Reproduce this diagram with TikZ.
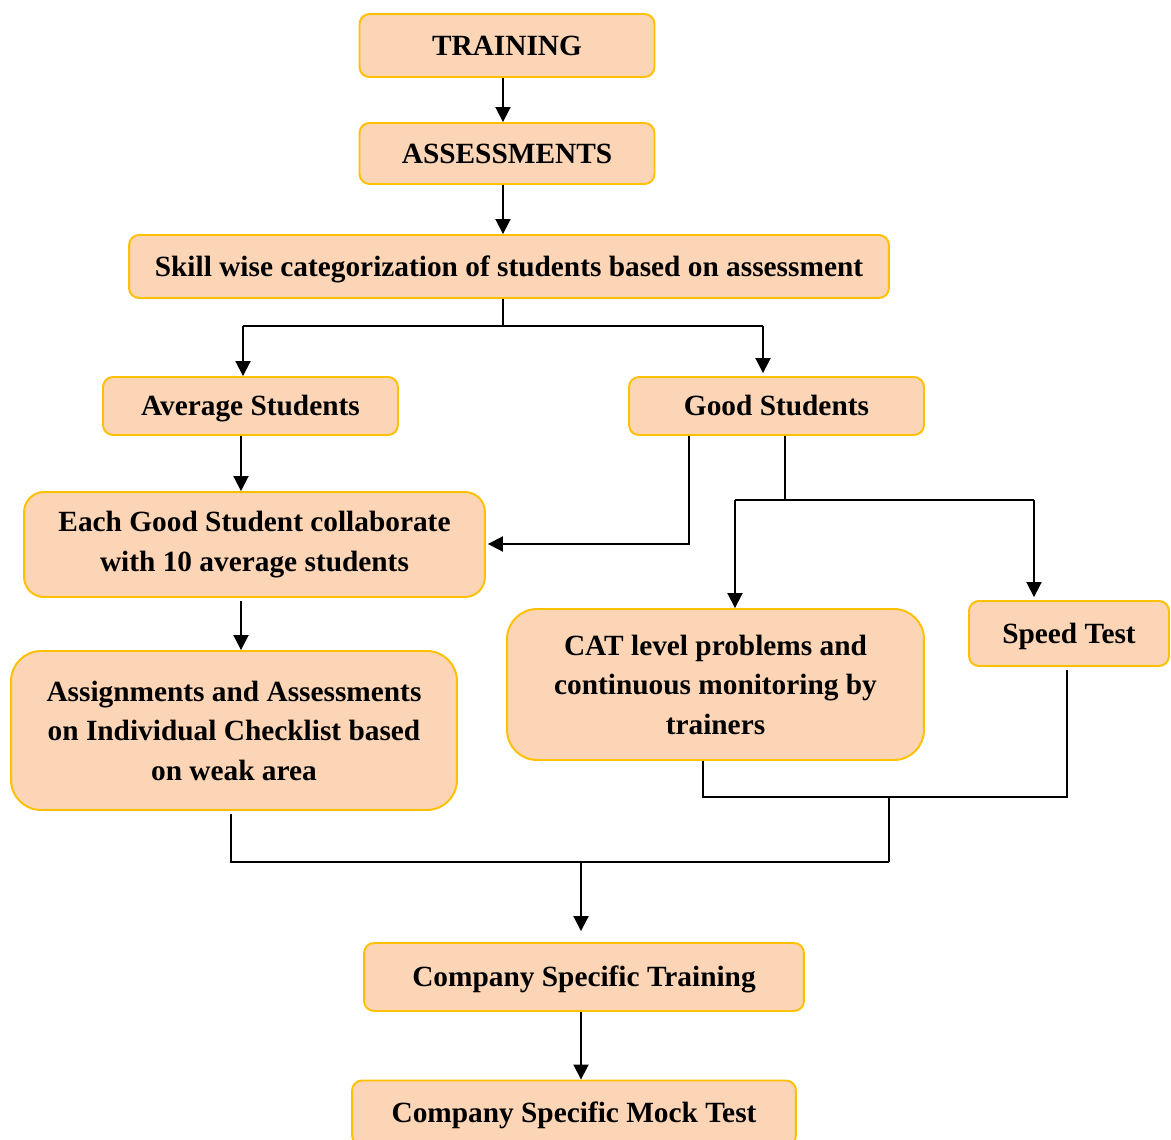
\documentclass[tikz,border=0pt]{standalone}
\usepackage{fontspec}
\setmainfont{Liberation Serif}
\usetikzlibrary{arrows.meta}
\definecolor{boxfill}{HTML}{FBD5B5}
\definecolor{boxdraw}{HTML}{FFC000}
\begin{document}
\begin{tikzpicture}[x=0.02cm,y=-0.02cm,
  box/.style={draw=boxdraw, fill=boxfill, line width=1.1pt, rounded corners=0.2cm,
    font=\fontsize{16.7}{22.5}\selectfont\bfseries, align=center, inner sep=0pt},
  single/.style={text height=11.3pt, text depth=0pt},
  conn/.style={line width=1.1pt, black},
  arr/.style={conn, -{Triangle[length=0.3cm,width=0.3cm]}}]
\useasboundingbox (0,0) rectangle (1171,1140);
\fill[white] (0,0) rectangle (1171,1140);
% nodes
\node[box, single, minimum width=5.9cm, minimum height=1.26cm] (training) at (507,45.5) {TRAINING};
\node[box, single, minimum width=5.9cm, minimum height=1.22cm] (assess) at (507,153.5) {ASSESSMENTS};
\node[box, single, minimum width=15.2cm, minimum height=1.26cm] (skill) at (509,266.5) {Skill wise categorization of students based on assessment};
\node[box, single, minimum width=5.9cm, minimum height=1.16cm] (avg) at (250.5,406) {Average Students};
\node[box, single, minimum width=5.9cm, minimum height=1.16cm] (good) at (776.5,406) {Good Students};
\node[box, rounded corners=0.4cm, minimum width=9.22cm, minimum height=2.1cm] (each) at (254.5,544.5) {Each Good Student collaborate\\with 10 average students};
\node[box, rounded corners=0.6cm, minimum width=8.92cm, minimum height=3.18cm] (assign) at (234,730.5) {Assignments and Assessments\\on Individual Checklist based\\on weak area};
\node[box, rounded corners=0.6cm, minimum width=8.34cm, minimum height=3.02cm] (cat) at (715.5,684.5) {CAT level problems and\\continuous monitoring by\\trainers};
\node[box, single, minimum width=4.0cm, minimum height=1.3cm] (speed) at (1069,633.5) {Speed Test};
\node[box, single, minimum width=8.8cm, minimum height=1.36cm] (company) at (584,977) {Company Specific Training};
\node[box, single, minimum width=8.88cm, minimum height=1.3cm] (mock) at (574,1113) {Company Specific Mock Test};
% junction coordinates
\coordinate (j1) at (503,326);
\coordinate (j1l) at (243,326);
\coordinate (j1r) at (763,326);
\coordinate (xa) at (241,0);
\coordinate (g1) at (689,544);
\coordinate (g2) at (785,500);
\coordinate (g2l) at (735,500);
\coordinate (g2r) at (1034,500);
\coordinate (c1) at (703,797);
\coordinate (c2) at (1067,797);
\coordinate (c3) at (889,797);
\coordinate (d1) at (889,862);
\coordinate (d2) at (231,862);
\coordinate (d3) at (581,862);
\coordinate (xm) at (581,0);
% connectors
\draw[arr] (training.south -| j1) -- (assess.north -| j1);
\draw[arr] (assess.south -| j1) -- (skill.north -| j1);
\draw[conn] (skill.south -| j1) -- (j1);
\draw[conn] (j1l) -- (j1r);
\draw[arr] (j1l) -- (avg.north -| j1l);
\draw[arr] (j1r) -- ([yshift=0.06cm]good.north -| j1r);
\draw[arr] (avg.south -| xa) -- (each.north -| xa);
\draw[arr] (good.south -| g1) -- (g1) -- ([xshift=0.04cm]each.east |- g1);
\draw[conn] (good.south -| g2) -- (g2);
\draw[conn] (g2l) -- (g2r);
\draw[arr] (g2l) -- (cat.north -| g2l);
\draw[arr] (g2r) -- ([yshift=0.06cm]speed.north -| g2r);
\draw[arr] ([yshift=-0.06cm]each.south -| xa) -- (assign.north -| xa);
\draw[conn] (cat.south -| c1) -- (c1) -- (c2) -- ([yshift=-0.06cm]speed.south -| c2);
\draw[conn] (c3) -- (d1);
\draw[conn] ([yshift=-0.06cm]assign.south -| d2) -- (d2) -- (d1);
\draw[arr, shorten >=0.22cm] (d3) -- (company.north -| d3);
\draw[arr] (company.south -| xm) -- (mock.north -| xm);
\end{tikzpicture}
\end{document}
